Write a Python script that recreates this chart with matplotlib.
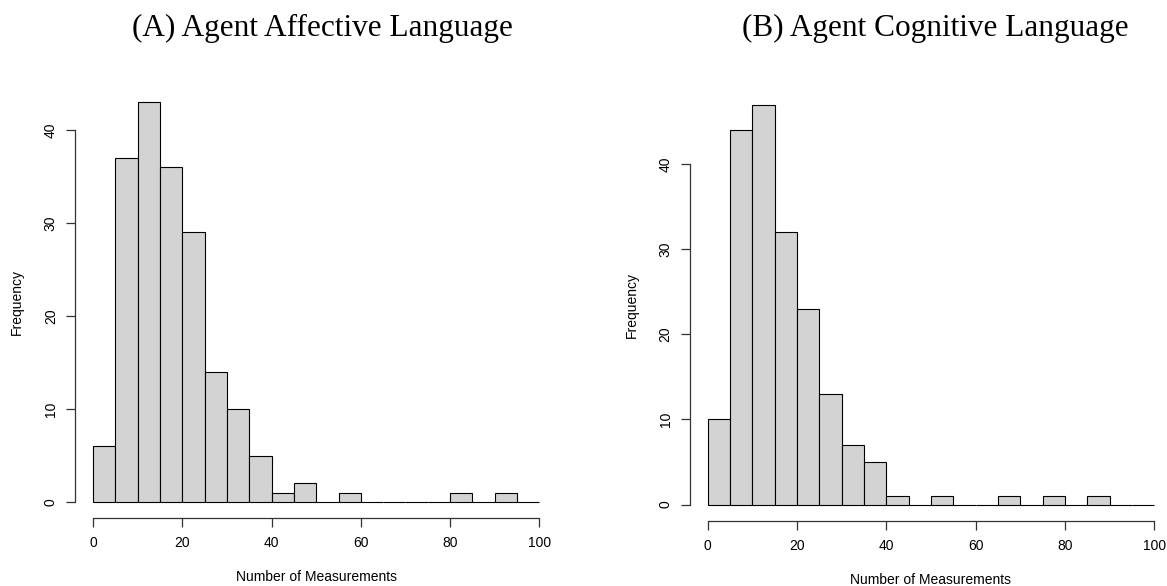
import matplotlib
matplotlib.use("Agg")
import matplotlib.pyplot as plt
import numpy

# histogram bins (width 5, from 0 to 100) and counts
bin_edges = numpy.arange(0, 105, 5)
counts_affective = [6, 37, 43, 36, 29, 14, 10, 5, 1, 2, 0, 1, 0, 0, 0, 0, 1, 0, 1, 0]
counts_cognitive = [10, 44, 47, 32, 23, 13, 7, 5, 1, 0, 1, 0, 0, 1, 0, 1, 0, 1, 0, 0]

titles = ["(A)\u2009Agent Affective Language", "(B)\u2009Agent Cognitive Language"]
xticks = [0, 20, 40, 60, 80, 100]
yticks = [0, 10, 20, 30, 40]

W, H = 1167, 586


def r_hist(ax, counts):
    left = bin_edges[:-1]
    ax.bar(left, counts, width=5, align="edge", color="#d3d3d3",
           edgecolor="black", linewidth=0.8)

    # R style: 4% padding on each side
    ymax = max(counts)
    ax.set_xlim(-4, 104)
    ax.set_ylim(-0.04 * ymax, ymax * 1.04)

    for s in ["top", "right"]:
        ax.spines[s].set_visible(False)
    ax.spines["left"].set_bounds(0, 40)
    ax.spines["bottom"].set_bounds(0, 100)
    for s in ["left", "bottom"]:
        ax.spines[s].set_linewidth(0.9)
        ax.spines[s].set_color("#333333")

    ax.set_xticks(xticks)
    ax.set_yticks(yticks)
    ax.tick_params(axis="both", direction="out", length=6.5, width=0.9,
                   color="#333333", labelsize=10)
    ax.tick_params(axis="x", pad=6.5)
    ax.tick_params(axis="y", pad=6)
    for lab in ax.get_yticklabels():
        lab.set_rotation(90)
        lab.set_verticalalignment("center")


plt.rcParams["font.family"] = ["Liberation Sans", "DejaVu Sans"]

fig = plt.figure(figsize=(W / 100, H / 100), dpi=100)

# plot regions in pixels: left, top, width, height
boxes = [(75.2, 86.1, 482, 432), (690, 88.5, 482, 432)]
all_counts = [counts_affective, counts_cognitive]
title_x = [322, 935]

for (bx, by, bw, bh), counts, title, tx in zip(boxes, all_counts, titles, title_x):
    ax = fig.add_axes([bx / W, (H - by - bh) / H, bw / W, bh / H])
    r_hist(ax, counts)
    x_bottom = by + bh
    fig.text((bx + bw / 2) / W, 1 - (x_bottom + 59) / H, "Number of Measurements",
             ha="center", va="center", fontsize=10)
    fig.text((bx - 58.5) / W, 1 - (by + bh / 2) / H, "Frequency",
             ha="center", va="center", rotation=90, fontsize=10)
    fig.text(tx / W, 1 - 36 / H, title, ha="center", va="baseline",
             fontsize=22.5, family=["Liberation Serif", "DejaVu Serif"])

fig.savefig("out.png", dpi=100)
